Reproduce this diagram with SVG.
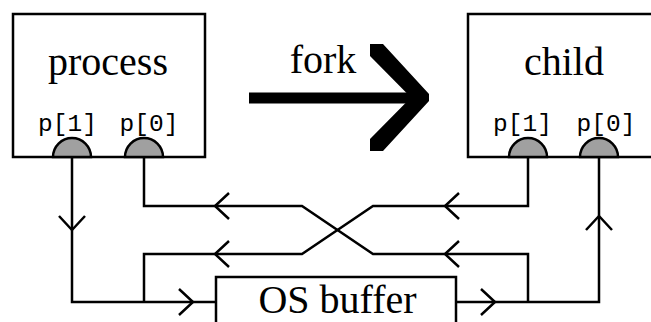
<svg xmlns="http://www.w3.org/2000/svg" xmlns:xlink="http://www.w3.org/1999/xlink" width="651" height="322" viewBox="0 0 651 322">
  <style>
    .box { fill: #ffffff; stroke: #000000; stroke-width: 2.5; }
    .end { fill: #a0a0a0; stroke: #000000; stroke-width: 2.5; }
    .title { font-family: "Liberation Serif", "Times New Roman", serif; font-size: 40px; fill: #000000; text-anchor: middle; }
    .port { font-family: "Liberation Mono", "Courier New", monospace; font-size: 24.5px; fill: #000000; text-anchor: middle; }
    .wire { fill: none; stroke: #000000; stroke-width: 2.5; stroke-linejoin: miter; }
    .head { fill: none; stroke: #000000; stroke-width: 2.5; stroke-linejoin: miter; }
  </style>
  <defs>
    <!-- open chevron pointing right, tip at the origin -->
    <path id="chev" class="head" d="M-14,-13 L0,0 L-14,13"/>
    <path id="halfdisc" class="end" d="M-19,0 A19,19 0 0 1 19,0 Z"/>
  </defs>

  <rect width="651" height="322" fill="#ffffff"/>

  <!-- pipe connectors -->
  <g id="connectors">
    <!-- parent write end into the buffer -->
    <path class="wire" d="M72,157 V302 H216"/>
    <!-- buffer output to parent read end (crosses over) -->
    <path class="wire" d="M144,157 V206 H302 L373,254 H528 V302"/>
    <!-- child write end into the buffer (crosses over) -->
    <path class="wire" d="M528,157 V206 H373 L302,254 H144 V302"/>
    <!-- buffer output to child read end -->
    <path class="wire" d="M456,302 H599 V157"/>

    <use xlink:href="#chev" transform="translate(72,230) rotate(90)"/>
    <use xlink:href="#chev" transform="translate(215,206) rotate(180)"/>
    <use xlink:href="#chev" transform="translate(215,254) rotate(180)"/>
    <use xlink:href="#chev" transform="translate(193,302)"/>
    <use xlink:href="#chev" transform="translate(445,206) rotate(180)"/>
    <use xlink:href="#chev" transform="translate(445,254) rotate(180)"/>
    <use xlink:href="#chev" transform="translate(495,302)"/>
    <use xlink:href="#chev" transform="translate(599,216) rotate(-90)"/>
  </g>

  <g id="process">
    <rect class="box" x="13" y="14" width="192" height="143"/>
    <text class="title" x="108" y="75">process</text>
    <text class="port" x="67.5" y="131">p[1]</text>
    <text class="port" x="149" y="131">p[0]</text>
    <use xlink:href="#halfdisc" x="72" y="157"/>
    <use xlink:href="#halfdisc" x="144" y="157"/>
  </g>

  <g id="fork">
    <text class="title" x="323" y="73">fork</text>
    <rect x="249" y="92.5" width="165" height="11" fill="#000000"/>
    <polygon points="370,44 383,44 429,94 429,101 383,151 370,151 370,139 411,97.5 370,56" fill="#000000"/>
  </g>

  <g id="child">
    <rect class="box" x="468" y="14" width="200" height="143"/>
    <text class="title" x="564" y="75">child</text>
    <text class="port" x="522.5" y="131">p[1]</text>
    <text class="port" x="606" y="131">p[0]</text>
    <use xlink:href="#halfdisc" x="528" y="157"/>
    <use xlink:href="#halfdisc" x="599" y="157"/>
  </g>

  <g id="os-buffer">
    <rect class="box" x="216" y="277" width="240" height="60"/>
    <text class="title" x="337.5" y="313">OS buffer</text>
  </g>
</svg>
